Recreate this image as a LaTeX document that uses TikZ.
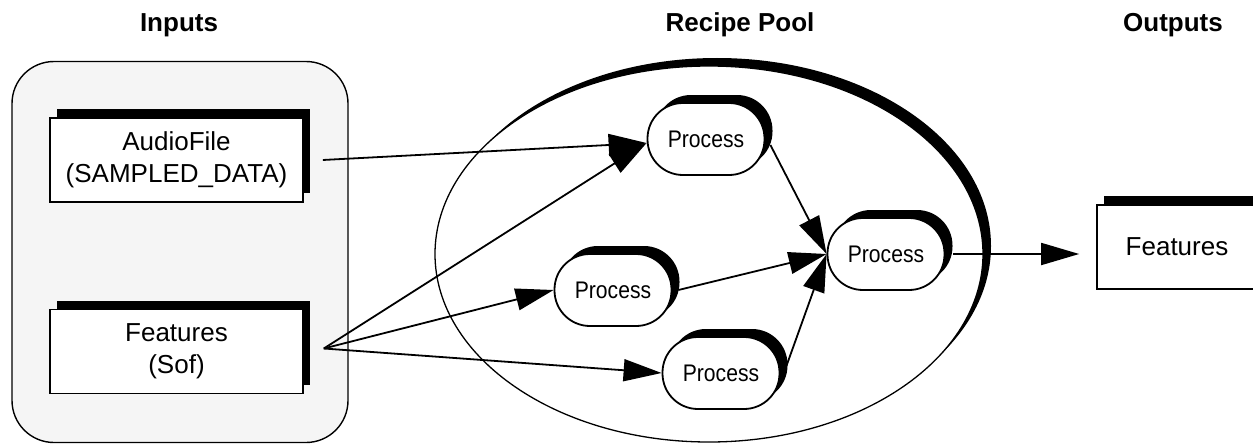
\documentclass[tikz,border=0pt]{standalone}
\usepackage{fontspec}
\usepackage{graphicx}
\setmainfont{Liberation Sans}
\usetikzlibrary{arrows.meta,shapes.geometric,shadows}
\definecolor{groupbg}{RGB}{245,245,245}

\begin{document}
\begin{tikzpicture}[x=1pt,y=-1pt,
  hdr/.style={font=\fontsize{26}{31}\selectfont\bfseries, anchor=base},
  databox/.style={draw, line width=1.6pt, fill=white, inner sep=0pt,
    minimum width=253pt, minimum height=84pt, align=center,
    font=\fontsize{26}{32}\selectfont,
    general shadow={fill=black, shadow xshift=7pt, shadow yshift=9pt}},
  proc/.style={draw, line width=1.8pt, fill=white, inner sep=0pt,
    rounded corners=35.5pt, minimum width=117pt, minimum height=72pt,
    font=\fontsize{24}{28}\selectfont,
    general shadow={fill=black, shadow xshift=8pt, shadow yshift=8pt}},
  flow/.style={line width=1.8pt, -{Triangle[length=38pt,width=22pt]}},
]
\useasboundingbox (0,0) rectangle (1253,444);
\clip (0,0) rectangle (1253,444);

% column headings
\node[hdr] (hin)  at (179,32)  {Inputs};
\node[hdr] (hrp)  at (740,32)  {Recipe Pool};
\node[hdr] (hout) at (1173,32) {Outputs};

% input group and recipe pool
\node[draw, line width=1.4pt, fill=groupbg, rounded corners=42pt,
      minimum width=336pt, minimum height=381pt, inner sep=0pt]
      (ingroup) at (180,252) {};
\node[ellipse, draw, line width=1.3pt, fill=white, inner sep=0pt,
      minimum width=548pt, minimum height=376pt,
      general shadow={fill=black, shadow xshift=8pt, shadow yshift=8pt}]
      (pool) at (709,254) {};

% data items
\node[databox] (af)   at (176.5,160)   {AudioFile\\(SAMPLED\_DATA)};
\node[databox] (feat) at (176.5,351.5) {Features\\(Sof)};
\node[databox, minimum width=160pt,
      general shadow={fill=black, shadow xshift=7pt, shadow yshift=8pt}]
      (out) at (1177,247) {Features};

% processes
\node[proc] (p1) at (706,139) {\scalebox{.88}[1]{Process}};
\node[proc] (p2) at (613,290) {\scalebox{.88}[1]{Process}};
\node[proc] (p3) at (721,373) {\scalebox{.88}[1]{Process}};
\node[proc] (p4) at (886,254) {\scalebox{.88}[1]{Process}};

% connector ends
\coordinate (afo)  at ([xshift=19pt]af.east);
\coordinate (fto)  at ([xshift=20pt,yshift=3pt]feat.east);
\coordinate (p1in) at ([yshift=-4pt]p1.west);
\coordinate (p1o)  at ([xshift=5pt,yshift=-6pt]p1.east);
\coordinate (p2o)  at ([xshift=6pt]p2.east);
\coordinate (p3o)  at ([xshift=6pt,yshift=7pt]p3.east);
\coordinate (p4o)  at ([xshift=8pt]p4.east);
\coordinate (outin) at ([xshift=-17pt]out.west);

% flows
\draw[flow] (afo) -- (p1in);
\draw[flow] (fto) -- (p1in);
\draw[flow] (fto) -- (p2.west);
\draw[flow] (fto) -- (p3.west);
\draw[flow] (p1o) -- (p4.west);
\draw[flow] (p2o) -- (p4.west);
\draw[flow] (p3o) -- (p4.west);
\draw[flow] (p4o) -- (p4o -| outin);
\end{tikzpicture}
\end{document}
